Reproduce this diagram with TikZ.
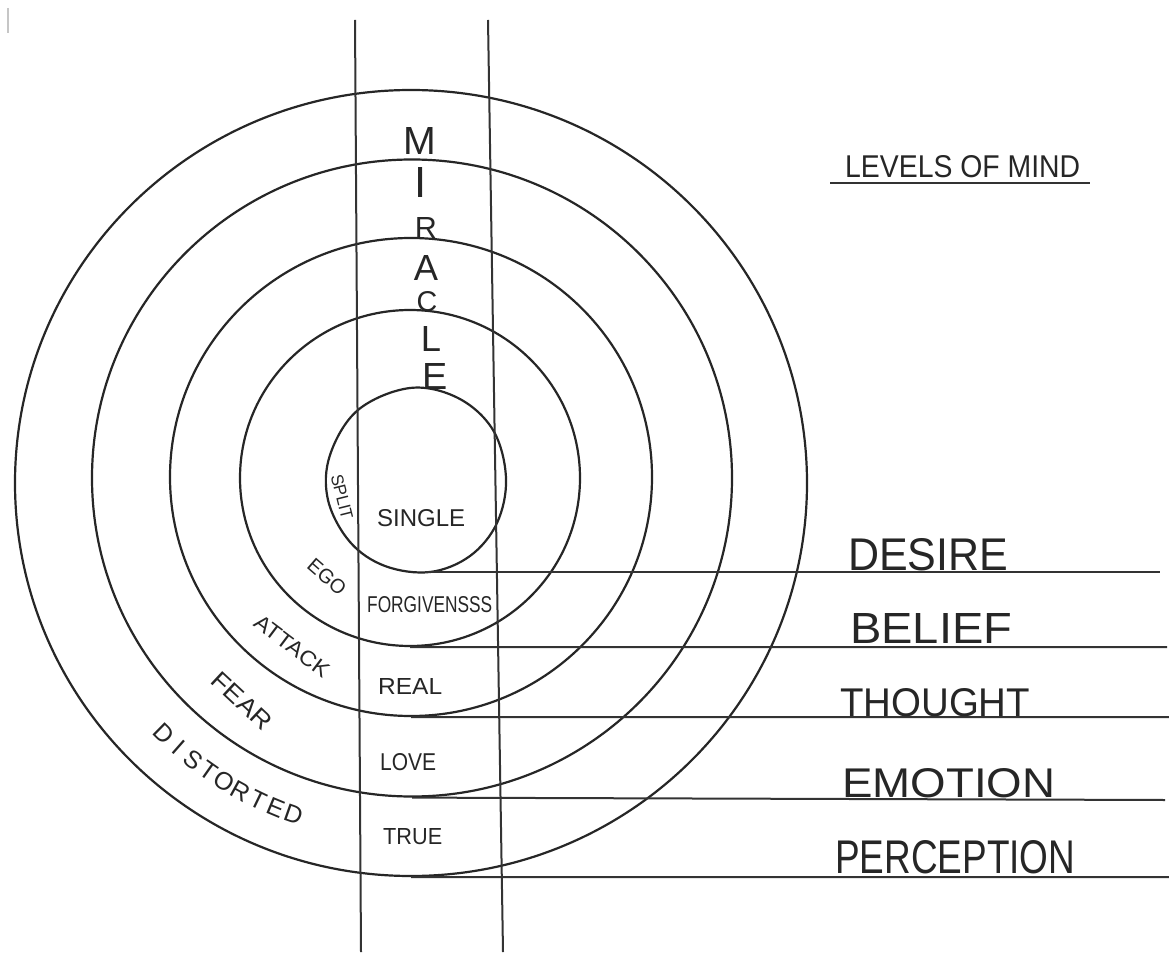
\documentclass[tikz,border=0pt]{standalone}
\usepackage{fontspec}
\setmainfont{Liberation Sans}
\usetikzlibrary{shapes.geometric}
\begin{document}
\begin{tikzpicture}[x=1pt,y=-1pt,
  ring/.style={ellipse, draw=black!85, line width=2.2pt, inner sep=0pt},
  rule/.style={draw=black!80, line width=2pt},
  lbl/.style={inner sep=0pt, anchor=north west, text=black!85},
  rlbl/.style={inner sep=0pt, text=black!85}]
\useasboundingbox (0,0) rectangle (1169,957);
\fill[white] (0,0) rectangle (1169,957);

% small mark top left
\draw[gray!45, line width=2.5pt] (8,8) -- (8,33);

% rings
\node[ring, minimum width=792pt, minimum height=786pt] (c1) at (411,483) {};
\node[ring, minimum width=640pt, minimum height=637pt] (c2) at (412,478) {};
\node[ring, minimum width=482pt, minimum height=478pt] (c3) at (411,477) {};
\node[ring, minimum width=340pt, minimum height=336pt] (c4) at (410,478) {};
\draw[black!85, line width=2.2pt] plot[smooth cycle, tension=0.6] coordinates
  {(410,388) (458,398) (493,430) (506,478) (497,523) (470,556) (430,572)
   (385,566) (350,542) (328,500) (330,455) (358,410)};
\coordinate (c5s) at (425,572);

% vertical lines
\coordinate (vlt) at (355,20);
\coordinate (vlb) at (361,952);
\coordinate (vrt) at (488,20);
\coordinate (vrb) at (503,952);
\draw[rule] (vlt) -- (vlb);
\draw[rule] (vrt) -- (vrb);

% horizontal lines
\coordinate (e5) at (1160,572);
\coordinate (e4) at (1167,647);
\coordinate (e3) at (1169,717);
\coordinate (e2) at (1165,800);
\coordinate (e1) at (1169,877);
\draw[rule] (c5s) -- (e5);
\draw[rule] (c4.south) -- (e4);
\draw[rule] (c3.south) -- (e3);
\draw[rule] (c2.south) -- (e2);
\draw[rule] (c1.south) -- (e1);

% title
\node[lbl] (title) at (845,155) {\resizebox{235pt}{22pt}{LEVELS OF MIND}};
\coordinate (ul1) at (830,183);
\coordinate (ul2) at (1090,183);
\draw[rule] (ul1) -- (ul2);

% right labels
\node[lbl] (desire) at (848,538) {\resizebox{160pt}{32pt}{DESIRE}};
\node[lbl] (belief) at (850,613) {\resizebox{162pt}{30pt}{BELIEF}};
\node[lbl] (thought) at (840,688) {\resizebox{190pt}{28pt}{THOUGHT}};
\node[lbl] (emotion) at (842,768) {\resizebox{213pt}{29pt}{EMOTION}};
\node[lbl] (perception) at (835,840) {\resizebox{240pt}{33pt}{PERCEPTION}};

% inner labels
\node[lbl] (single) at (377,509) {\resizebox{88pt}{17pt}{SINGLE}};
\node[lbl] (forg) at (367,596) {\resizebox{125pt}{16pt}{FORGIVENSSS}};
\node[lbl] (real) at (378,678) {\resizebox{64pt}{16pt}{REAL}};
\node[lbl] (love) at (380,753) {\resizebox{56pt}{17pt}{LOVE}};
\node[lbl] (true) at (383,828) {\resizebox{59pt}{16pt}{TRUE}};

% rotated labels
\node[rlbl, rotate=-76] (split) at (342,497) {\resizebox{46pt}{12pt}{SPLIT}};
\node[rlbl, rotate=-41] (ego) at (327,577) {\resizebox{44pt}{14pt}{EGO}};
\node[rlbl, rotate=-37] (attack) at (292,646) {\resizebox{88pt}{15pt}{ATTACK}};
\node[rlbl, rotate=-43] (fear) at (242,701) {\resizebox{72pt}{17pt}{FEAR}};
\foreach \ch [count=\i from 0] in {D,I,S,T,O,R,T,E,D} {
  \pgfmathsetmacro\a{134.5-\i*3.125}
  \node[rlbl, rotate={90-\a}] (dist\i) at ({411+352*cos(\a)},{483+352*sin(\a)})
    {\fontsize{25}{25}\selectfont\ch};
}

% MIRACLE
\foreach \ch/\x/\y/\h in {M/420/141/27, I/421/182/30, R/426/228/21, A/426/268/25,
  C/427/302/20, L/431/339/25, E/435/376/26} {
  \node[rlbl] (mir\ch\y) at (\x,\y) {\resizebox{!}{\h pt}{\ch}};
}
\end{tikzpicture}
\end{document}
